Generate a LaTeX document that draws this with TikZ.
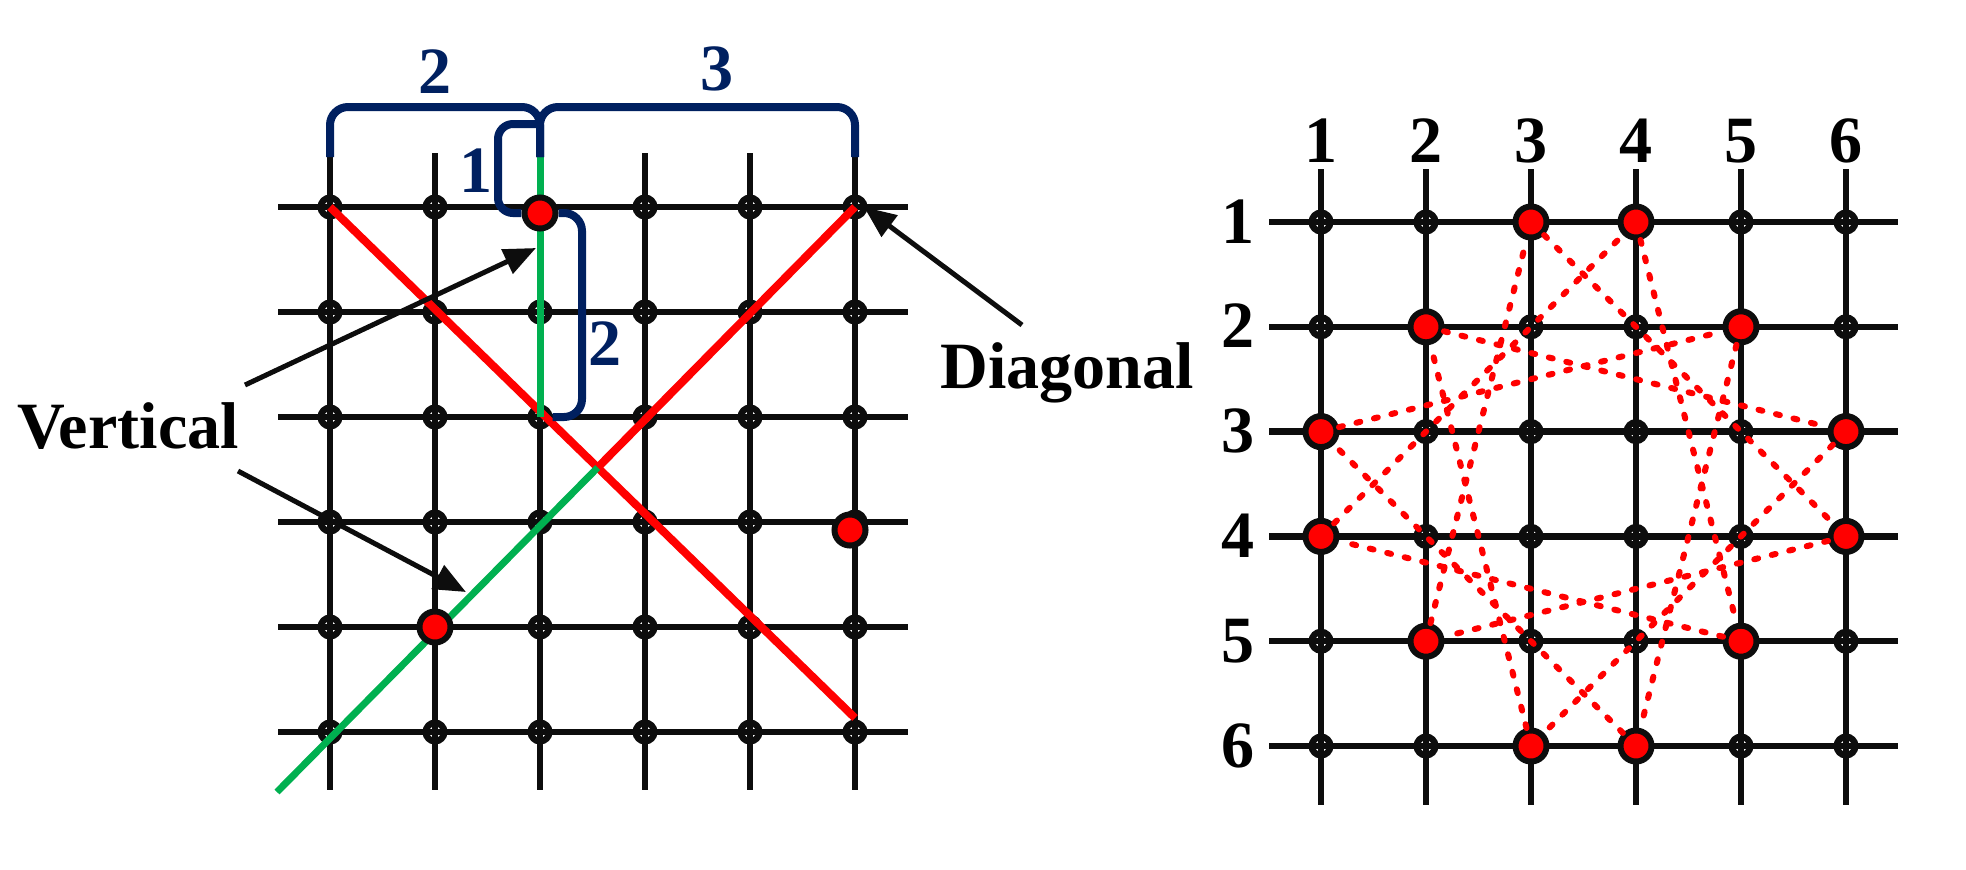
\documentclass[tikz,border=0pt]{standalone}
\usepackage{fontspec}
\setmainfont{Liberation Serif}
\usetikzlibrary{arrows.meta,calc}
\definecolor{navy}{RGB}{0,32,96}
\definecolor{grn}{RGB}{0,176,80}
\definecolor{ink}{RGB}{13,13,13}
\begin{document}
\begin{tikzpicture}[x=0.01cm, y=-0.01cm,
  font=\fontsize{18.8}{22}\selectfont\bfseries,
  gridline/.style={ink, line width=0.065cm},
  dot/.style={circle, draw=ink, line width=0.065cm, minimum size=0.185cm, inner sep=0pt},
  reddot/.style={circle, draw=ink, fill=red, line width=0.06cm, minimum size=0.31cm, inner sep=0pt},
  brace/.style={navy, line width=0.08cm, rounded corners=0.18cm},
  ptr/.style={ink, line width=0.05cm, -{Triangle[length=0.32cm,width=0.26cm]}},
  lbl/.style={inner sep=0pt, anchor=base}]
\useasboundingbox (0,0) rectangle (1966,869);
% grid lines
\foreach \i in {1,...,6} {
  \pgfmathsetmacro\lx{330+105*(\i-1)}
  \pgfmathsetmacro\ly{207+105*(\i-1)}
  \draw[gridline] (\lx,153) -- (\lx,790);
  \draw[gridline] (278,\ly) -- (908,\ly);
  \pgfmathsetmacro\rx{1321+105*(\i-1)}
  \pgfmathsetmacro\ry{222+104.8*(\i-1)}
  \draw[gridline] (\rx,169) -- (\rx,805);
  \draw[gridline] (1269,\ry) -- (1898,\ry);
}
\foreach \i in {1,...,6} \foreach \j in {1,...,6} {
  \node[dot] (L_\i_\j) at ({330+105*(\i-1)},{207+105*(\j-1)}) {};
  \node[dot] (R_\i_\j) at ({1321+105*(\i-1)},{222+104.8*(\j-1)}) {};
}
% left picture
\coordinate (A_start) at (L_1_1);
\coordinate (B_start) at (L_6_1);
\coordinate (A_end) at ($(L_6_6)+(0,-14)$);
\coordinate (G_end) at (277,792);
\coordinate (X) at (intersection of A_start--A_end and B_start--G_end);
\coordinate (V_top) at (540,157);
\draw[red, line width=0.08cm] (A_start) -- (A_end);
\draw[red, line width=0.08cm] (B_start) -- (X);
\draw[grn, line width=0.07cm] (X) -- (G_end);
\draw[grn, line width=0.07cm] (V_top) -- (L_3_3.center);
\node[reddot] (Ldot_a) at ($(L_3_1)+(0,6)$) {};
\node[reddot] (Ldot_b) at ($(L_6_4)+(-5,8)$) {};
\node[reddot] (Ldot_c) at (L_2_5) {};
\draw[brace] (330,157) |- (540,107) -- (V_top);
\draw[brace] (855,157) |- (540,107) -- (V_top);
\draw[brace, rounded corners=0.15cm] (540,124) -- (498,124) -- (498,213) -- (Ldot_a.west);
\draw[brace] (Ldot_a.east) -| (582,300) |- (L_3_3.east);
\node[lbl, navy] (n_two) at (435,93) {2};
\node[lbl, navy] (n_three) at (717,90) {3};
\node[lbl, navy] (n_one) at (476,192) {1};
\node[lbl, navy] (n_span) at (605,365) {2};
\node[lbl] (t_vert) at (128,448) {Vertical};
\node[lbl] (t_diag) at (1067,388) {Diagonal};
\coordinate (va_tail) at (245,385); \coordinate (va_tip) at (536,248);
\coordinate (vb_tail) at (238,471); \coordinate (vb_tip) at (466,592);
\coordinate (d_tail) at (1022,325); \coordinate (d_tip) at (864,207);
\draw[ptr] (va_tail) -- (va_tip);
\draw[ptr] (vb_tail) -- (vb_tip);
\draw[ptr] (d_tail) -- (d_tip);
% right picture
\foreach \i in {1,...,6} {
  \node[lbl] (c_\i) at ($(R_\i_1)+(0,-60)$) {\i};
  \node[lbl] (r_\i) at ($(R_1_\i)+(-83,21)$) {\i};
}
\foreach \c/\r [count=\k] in {3/1,4/1,5/2,6/3,6/4,5/5,4/6,3/6,2/5,1/4,1/3,2/2}
  \node[reddot] (S\k) at (R_\c_\r) {};
\foreach \k in {1,...,12} {
  \pgfmathtruncatemacro\m{mod(\k+3,12)+1}
  \draw[red, line width=0.06cm, line cap=round, dash pattern=on 0.04cm off 0.14cm] (S\k) -- (S\m);
}
\end{tikzpicture}
\end{document}
